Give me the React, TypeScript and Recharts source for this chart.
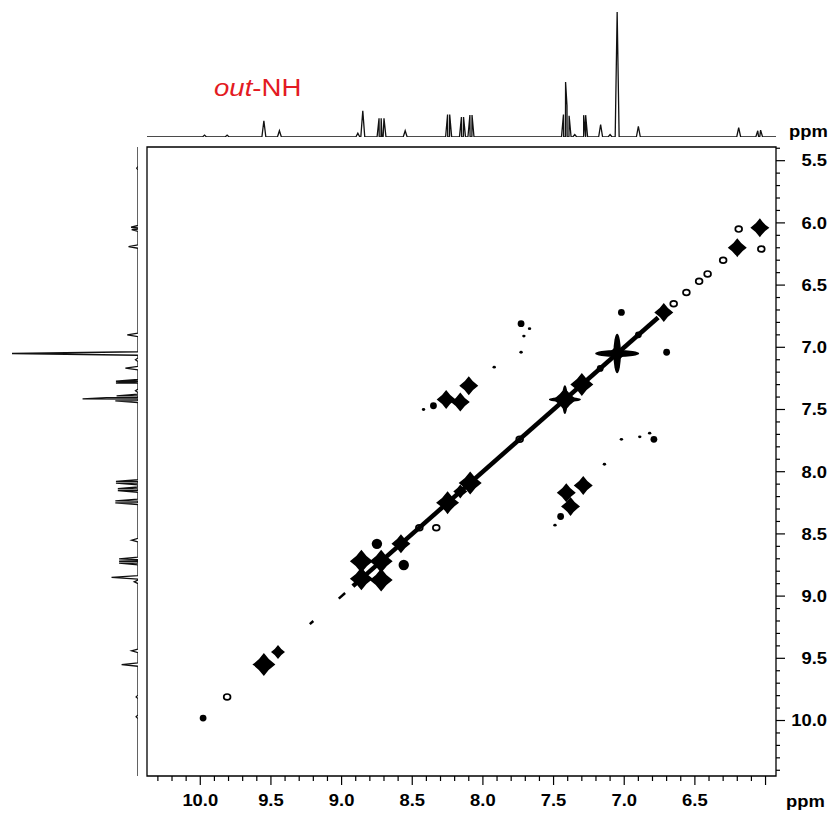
import React from "react";
import { ScatterChart, Scatter, XAxis, YAxis, ReferenceArea } from "recharts";

// ppm window of the 2D frame (F2 across, F1 down)
const f2Window = [5.926, 10.377];
const f1Window = [5.39, 10.446];

const f2Ticks = [
  10.3, 10.2, 10.1, 10.0, 9.9, 9.8, 9.7, 9.6, 9.5, 9.4, 9.3, 9.2, 9.1, 9.0, 8.9,
  8.8, 8.7, 8.6, 8.5, 8.4, 8.3, 8.2, 8.1, 8.0, 7.9, 7.8, 7.7, 7.6, 7.5, 7.4, 7.3,
  7.2, 7.1, 7.0, 6.9, 6.8, 6.7, 6.6, 6.5, 6.4, 6.3, 6.2, 6.1, 6.0,
];
const f2Labels = ["10.0", "9.5", "9.0", "8.5", "8.0", "7.5", "7.0", "6.5"];
const f1Ticks = [
  5.4, 5.5, 5.6, 5.7, 5.8, 5.9, 6.0, 6.1, 6.2, 6.3, 6.4, 6.5, 6.6, 6.7, 6.8, 6.9,
  7.0, 7.1, 7.2, 7.3, 7.4, 7.5, 7.6, 7.7, 7.8, 7.9, 8.0, 8.1, 8.2, 8.3, 8.4, 8.5,
  8.6, 8.7, 8.8, 8.9, 9.0, 9.1, 9.2, 9.3, 9.4, 9.5, 9.6, 9.7, 9.8, 9.9, 10.0,
  10.1, 10.2, 10.3, 10.4,
];
const f1Labels = ["5.5", "6.0", "6.5", "7.0", "7.5", "8.0", "8.5", "9.0", "9.5", "10.0"];

// 1D projection: line positions (ppm) and heights (tallest singlet = 100)
const peakPpm = [
  9.97, 9.81, 9.55, 9.44, 8.885, 8.85, 8.735, 8.72, 8.7, 8.55, 8.25, 8.235, 8.152,
  8.137, 8.092, 8.077, 7.43, 7.415, 7.405, 7.39, 7.35, 7.287, 7.273, 7.167, 7.1,
  7.05, 6.9, 6.19, 6.055, 6.035, 5.56,
];
const peakHeight = [
  1.5, 1.5, 13, 5, 3, 21, 15, 15, 15, 5, 18, 18, 16, 16, 17.5, 17.5, 18, 44, 25, 17,
  2, 17.5, 17.5, 10, 2, 100, 8.5, 7.5, 5, 5.5, 1,
];

// diagonal ridge (continuous part) and short dashes beyond it
const ridgeEnds = [8.92, 6.76];
const ridgeDashes = [
  [9.02, 8.975],
  [9.225, 9.2],
];

// diagonal peaks: ppm and contour level (1 = faint dot ... 10 = strongest)
const diagPpm = [
  9.98, 9.81, 9.55, 9.45, 8.86, 8.72, 8.58, 8.45, 8.25, 8.16, 8.09, 7.74, 7.42,
  7.3, 7.17, 7.05, 6.9, 6.72, 6.65, 6.56, 6.47, 6.41, 6.3, 6.2, 6.04,
];
const diagLevel = [3, 2, 7, 5, 7, 7, 6, 2, 7, 5, 7, 2, 9, 7, 3, 10, 3, 6, 2, 2, 2, 2, 2, 6, 6];

// cross peaks
const crossF2 = [
  8.86, 8.72, 8.75, 8.56, 8.33, 8.1, 8.26, 8.16, 8.35, 8.42, 7.29, 7.41, 7.38, 7.45,
  7.49, 7.73, 7.67, 7.71, 7.73, 7.92, 6.89, 6.82, 6.79, 7.02, 7.14, 7.02, 6.7, 6.19,
  6.03,
];
const crossF1 = [
  8.72, 8.87, 8.58, 8.75, 8.45, 7.31, 7.42, 7.44, 7.47, 7.5, 8.11, 8.17, 8.28, 8.36,
  8.43, 6.81, 6.85, 6.91, 7.04, 7.16, 7.72, 7.69, 7.74, 7.74, 7.94, 6.72, 7.04, 6.05,
  6.21,
];
const crossLevel = [
  7, 7, 4, 4, 2, 6, 6, 6, 3, 1, 6, 6, 6, 3, 1, 3, 1, 1, 1, 1, 1, 1, 3, 1, 1, 3, 3, 2, 2,
];

const FONT = "'Liberation Sans', Arial, Helvetica, sans-serif";
const STRETCH = "scale(1.15,1)";

// stick spectrum: each line drawn as a narrow triangle on a flat baseline
const halfBase = 0.014;
const traceEdges = [10.45, 5.38];
const trace = (() => {
  const pts: { ppm: number; h: number }[] = [
    { ppm: traceEdges[0], h: 0 },
    { ppm: traceEdges[1], h: 0 },
  ];
  peakPpm.forEach((p, i) => {
    pts.push({ ppm: p + halfBase, h: 0 });
    pts.push({ ppm: p, h: peakHeight[i] });
    pts.push({ ppm: p - halfBase, h: 0 });
  });
  return pts.sort((a, b) => b.ppm - a.ppm || a.h - b.h);
})();
const topTrace = trace.map((d) => ({ x: d.ppm, y: d.h }));
const sideTrace = trace.map((d) => ({ x: d.h, y: d.ppm }));

const ridge = ridgeEnds.map((p) => ({ x: p, y: p }));
const dashes = ridgeDashes.map((seg) => seg.map((p) => ({ x: p, y: p })));
const peaks = [
  ...diagPpm.map((p, i) => ({ x: p, y: p, z: diagLevel[i] })),
  ...crossF2.map((p, i) => ({ x: p, y: crossF1[i], z: crossLevel[i] })),
];

const noMark = () => <g />;
const isMajor = (v: number) => Math.abs(v * 2 - Math.round(v * 2)) < 1e-6;

function diamondPath(cx: number, cy: number, h: number, c: number) {
  return (
    `M${cx},${cy - h} Q${cx + c},${cy - c} ${cx + h},${cy} ` +
    `Q${cx + c},${cy + c} ${cx},${cy + h} Q${cx - c},${cy + c} ${cx - h},${cy} ` +
    `Q${cx - c},${cy - c} ${cx},${cy - h} Z`
  );
}

function PeakShape(props: any) {
  const { cx, cy, payload } = props;
  if (cx == null || cy == null) return <g />;
  const z = payload.z;
  if (z === 1) return <ellipse cx={cx} cy={cy} rx={1.7} ry={1.4} fill="#000" />;
  if (z === 2)
    return <ellipse cx={cx} cy={cy} rx={3.4} ry={2.9} fill="none" stroke="#000" strokeWidth={1.7} />;
  if (z === 3) return <circle cx={cx} cy={cy} r={3.4} fill="#000" />;
  if (z === 4) return <circle cx={cx} cy={cy} r={5.2} fill="#000" />;
  if (z <= 7) {
    const h = z === 5 ? 7 : z === 6 ? 9.5 : 11.5;
    return <path d={diamondPath(cx, cy, h, h * 0.4)} fill="#000" />;
  }
  const arm = z === 8 ? 13 : z === 9 ? 16 : 22;
  const core = z === 10 ? 0.42 : 0.72;
  return (
    <g fill="#000">
      <ellipse cx={cx} cy={cy} rx={arm} ry={arm * 0.16} />
      <ellipse cx={cx} cy={cy} rx={arm * 0.17} ry={arm * 0.9} />
      <path d={diamondPath(cx, cy, arm * core, arm * core * 0.42)} />
    </g>
  );
}

function BottomTick(props: any) {
  const { x, y, payload } = props;
  const v = payload.value as number;
  const major = isMajor(v);
  const label = v.toFixed(1);
  return (
    <g>
      <line x1={x} x2={x} y1={y} y2={y + (major ? 9 : 5)} stroke="#000" strokeWidth={1.2} />
      {major && f2Labels.includes(label) && (
        <text
          transform={`translate(${x},${y + 30}) ${STRETCH}`}
          textAnchor="middle"
          fontFamily={FONT}
          fontWeight="bold"
          fontSize={16}
          fill="#000"
        >
          {label}
        </text>
      )}
    </g>
  );
}

function RightTick(props: any) {
  const { x, y, payload } = props;
  const v = payload.value as number;
  const major = isMajor(v);
  const label = v.toFixed(1);
  return (
    <g>
      <line x1={x} x2={x + (major ? 9 : 4)} y1={y} y2={y} stroke="#000" strokeWidth={1.2} />
      {major && f1Labels.includes(label) && (
        <text
          transform={`translate(${x + 51},${y + 5.8}) ${STRETCH}`}
          textAnchor="end"
          fontFamily={FONT}
          fontWeight="bold"
          fontSize={16}
          fill="#000"
        >
          {label}
        </text>
      )}
    </g>
  );
}

const abs = (left: number, top: number): React.CSSProperties => ({
  position: "absolute",
  left,
  top,
});

export default function App() {
  return (
    <div style={{ position: "absolute", left: 0, top: 0, width: 832, height: 816, background: "#fff" }}>
      {/* top projection */}
      <div style={abs(0, 0)}>
        <ScatterChart width={832} height={150} margin={{ top: 12, left: 147, right: 56, bottom: 13 }}>
          <XAxis type="number" dataKey="x" domain={f2Window} reversed allowDataOverflow hide />
          <YAxis type="number" dataKey="y" domain={[0, 100]} allowDataOverflow hide />
          <Scatter
            data={topTrace}
            line={{ stroke: "#111", strokeWidth: 1.3 }}
            shape={noMark}
            isAnimationActive={false}
          />
        </ScatterChart>
      </div>

      {/* side projection */}
      <div style={abs(0, 0)}>
        <ScatterChart width={147} height={816} margin={{ top: 147, left: 12, right: 9, bottom: 40 }}>
          <XAxis type="number" dataKey="x" domain={[0, 100]} reversed allowDataOverflow hide />
          <YAxis type="number" dataKey="y" domain={f1Window} reversed allowDataOverflow hide />
          <Scatter
            data={sideTrace}
            line={{ stroke: "#111", strokeWidth: 1.3 }}
            shape={noMark}
            isAnimationActive={false}
          />
        </ScatterChart>
      </div>

      {/* 2D map */}
      <div style={abs(0, 0)}>
        <ScatterChart width={832} height={816} margin={{ top: 147, left: 147, right: 0, bottom: 0 }}>
          <XAxis
            type="number"
            dataKey="x"
            domain={f2Window}
            reversed
            allowDataOverflow
            ticks={f2Ticks}
            interval={0}
            tick={(p: any) => <BottomTick {...p} />}
            tickLine={false}
            axisLine={false}
            tickSize={0}
            tickMargin={0}
            height={40}
          />
          <YAxis
            type="number"
            dataKey="y"
            domain={f1Window}
            reversed
            allowDataOverflow
            orientation="right"
            ticks={f1Ticks}
            interval={0}
            tick={(p: any) => <RightTick {...p} />}
            tickLine={false}
            axisLine={false}
            tickSize={0}
            tickMargin={0}
            width={56}
          />
          <ReferenceArea
            x1={f2Window[0]}
            x2={f2Window[1]}
            y1={f1Window[0]}
            y2={f1Window[1]}
            fill="none"
            fillOpacity={0}
            stroke="#000"
            strokeWidth={1.3}
          />
          <Scatter
            data={ridge}
            line={{ stroke: "#000", strokeWidth: 4.5 }}
            shape={noMark}
            isAnimationActive={false}
          />
          {dashes.map((d, i) => (
            <Scatter
              key={i}
              data={d}
              line={{ stroke: "#000", strokeWidth: 2.5 }}
              shape={noMark}
              isAnimationActive={false}
            />
          ))}
          <Scatter data={peaks} shape={(p: any) => <PeakShape {...p} />} isAnimationActive={false} />
        </ScatterChart>
      </div>

      {/* labels */}
      <svg width={832} height={816} style={{ ...abs(0, 0), pointerEvents: "none" }}>
        <text transform={`translate(214,96) ${STRETCH}`} fontFamily={FONT} fontSize={24} fill="#e31b23">
          <tspan fontStyle="italic">out</tspan>-NH
        </text>
        <text transform={`translate(789,137) ${STRETCH}`} fontFamily={FONT} fontWeight="bold" fontSize={16} fill="#000">
          ppm
        </text>
        <text transform={`translate(786,807) ${STRETCH}`} fontFamily={FONT} fontWeight="bold" fontSize={16} fill="#000">
          ppm
        </text>
      </svg>
    </div>
  );
}
